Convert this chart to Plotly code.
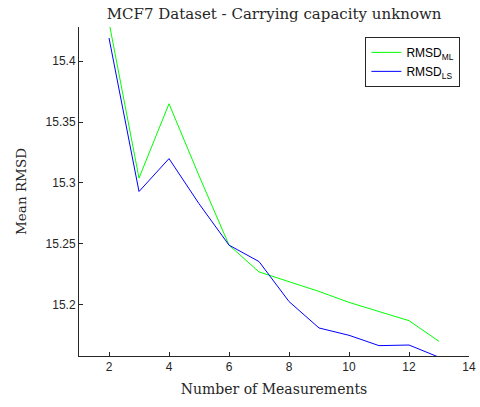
import plotly.graph_objects as go

measurements = [2, 3, 4, 5, 6, 7, 8, 9, 10, 11, 12, 13]
rmsd_ml = [15.432, 15.304, 15.365, 15.306, 15.249, 15.227, 15.219, 15.211, 15.202, 15.1945, 15.187, 15.170]
rmsd_ls = [15.419, 15.293, 15.320, 15.283, 15.249, 15.2355, 15.2027, 15.181, 15.175, 15.1665, 15.167, 15.157]

fig = go.Figure()
fig.add_trace(go.Scatter(x=measurements, y=rmsd_ml, mode="lines", name="RMSD<sub>ML</sub>",
                         line=dict(color="#00ff00", width=1)))
fig.add_trace(go.Scatter(x=measurements, y=rmsd_ls, mode="lines", name="RMSD<sub>LS</sub>",
                         line=dict(color="#0000ff", width=1)))

fig.update_layout(
    width=480, height=407,
    margin=dict(l=79, r=11, t=27, b=51, autoexpand=False),
    paper_bgcolor="white", plot_bgcolor="white",
    title=dict(text="MCF7 Dataset - Carrying capacity unknown", x=0.571, xanchor="center",
               y=0.965, yanchor="middle",
               font=dict(family="DejaVu Serif", size=15, color="#262626")),
    font=dict(family="Liberation Sans", size=12, color="#262626"),
    showlegend=True,
    legend=dict(x=0.978, y=0.97, xanchor="right", yanchor="top",
                bordercolor="#262626", borderwidth=1, bgcolor="white",
                itemwidth=30,
                font=dict(family="Liberation Sans", size=12, color="#000000"),
                tracegroupgap=0),
    xaxis=dict(range=[1, 14], tickvals=[2, 4, 6, 8, 10, 12, 14], ticks="inside", ticklen=4,
               tickcolor="#262626", showline=True, linecolor="#262626", linewidth=1,
               showgrid=False, zeroline=False, automargin=False, ticklabeloverflow="allow",
               tickfont=dict(family="Liberation Sans", size=12, color="#262626"),
               title=dict(text="Number of Measurements", standoff=10,
                          font=dict(family="DejaVu Serif", size=14, color="#262626"))),
    yaxis=dict(range=[15.158, 15.428], tickvals=[15.2, 15.25, 15.3, 15.35, 15.4],
               ticktext=["15.2", "15.25", "15.3", "15.35", "15.4"],
               ticks="inside", ticklen=4,
               tickcolor="#262626", showline=True, linecolor="#262626", linewidth=1,
               showgrid=False, zeroline=False, automargin=False, ticklabeloverflow="allow",
               tickfont=dict(family="Liberation Sans", size=12, color="#262626"),
               title=dict(text="Mean RMSD", standoff=15,
                          font=dict(family="DejaVu Serif", size=13.5, color="#262626"))),
)

fig.write_html("out.html", config={"displayModeBar": False},
               post_script="document.body.style.margin='0';document.body.style.overflow='hidden';")
